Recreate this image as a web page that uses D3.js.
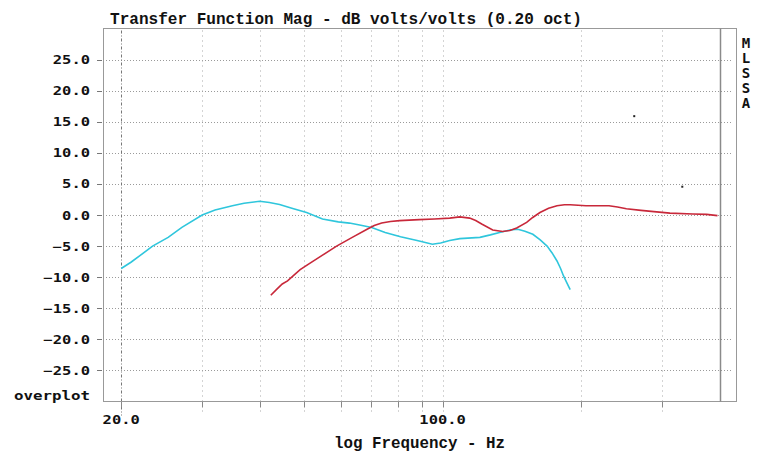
<!DOCTYPE html>
<html>
<head>
<meta charset="utf-8">
<script src="https://cdn.jsdelivr.net/npm/d3@7"></script>
<style>
    html, body { margin: 0; padding: 0; background: #fff; }
    svg { display: block; }
</style>
</head>
<body>
<svg id="chart" width="762" height="455"></svg>
<script>
// data
var xTickValues = [20, 30, 40, 50, 60, 70, 80, 90, 100, 200, 300];
var xTickLabels = [{ f: 20, label: '20.0' }, { f: 100, label: '100.0' }];
var yTickValues = [25, 20, 15, 10, 5, 0, -5, -10, -15, -20, -25];

var cyanFreq = [20.0, 21.0, 22.0, 23.4, 25.3, 27.1, 30.0, 32.0, 34.9, 37.0, 40.0, 42.0, 44.2,
    47.0, 50.6, 54.8, 59.3, 62.7, 66.0, 70.1, 75.0, 81.0, 88.0, 95.0, 99.0, 103.6, 109.0,
    120.5, 127.0, 133.0, 140.0, 145.7, 151.0, 157.1, 163.0, 168.7, 173.0, 177.3, 180.5,
    183.2, 186.5, 189.4];
var cyanDb = [-8.6, -7.6, -6.5, -5.0, -3.6, -2.0, 0.0, 0.8, 1.5, 1.9, 2.2, 2.0, 1.7,
    1.1, 0.4, -0.65, -1.1, -1.3, -1.6, -2.0, -2.8, -3.5, -4.1, -4.7, -4.5, -4.1, -3.8,
    -3.6, -3.2, -2.8, -2.4, -2.3, -2.6, -3.1, -4.0, -5.0, -6.1, -7.4, -8.6,
    -9.8, -11.0, -12.0];

var redFreq = [42.3, 43.5, 44.8, 46.0, 47.3, 49.0, 51.1, 54.7, 58.8, 63.6, 68.5, 71.0, 73.7,
    77.0, 80.6, 88.9, 96.0, 103.6, 109.0, 114.5, 118.0, 121.6, 128.5, 135.0, 140.0, 144.9,
    152.3, 157.0, 162.8, 170.0, 177.3, 184.0, 189.4, 205.0, 230.0, 240.0, 251.0, 270.0,
    288.0, 312.0, 350.0, 375.0, 396.0];
var redDb = [-12.9, -12.0, -11.1, -10.6, -9.8, -8.8, -7.9, -6.5, -5.0, -3.6, -2.3, -1.7, -1.3,
    -1.05, -0.9, -0.75, -0.65, -0.5, -0.3, -0.5, -0.9, -1.45, -2.4, -2.65, -2.5, -2.1,
    -1.2, -0.4, 0.4, 1.1, 1.5, 1.65, 1.65, 1.5, 1.5, 1.3, 1.0, 0.75,
    0.55, 0.3, 0.15, 0.1, -0.1];

var strayFreq = [261, 332];
var strayDb = [15.9, 4.55];

var sideLetters = ['M', 'L', 'S', 'S', 'A'];

var svg = d3.select('#chart'),
    frame = { left: 104, right: 720, outer: 737, top: 28.5, bottom: 401.5 },
    monoFont = '"DejaVu Sans Mono", monospace',
    serifMono = '"Liberation Mono", monospace';

var x = d3.scaleLog().domain([18.35, 401]).range([frame.left, frame.right]),
    y = d3.scaleLinear().domain([-30, 30]).range([frame.bottom, frame.top]);

// GRID
//
var grid = svg.append('g').attr('class', 'grid');

grid.selectAll('.hgrid').data(yTickValues).enter().append('line')
    .attr('class', 'hgrid')
    .attr('x1', frame.left + 2).attr('x2', frame.outer - 4)
    .attr('y1', function(d) { return Math.round(y(d)) + 0.5; })
    .attr('y2', function(d) { return Math.round(y(d)) + 0.5; })
    .attr('stroke', '#9a9a9a').attr('stroke-width', 1)
    .attr('stroke-dasharray', '1,2');

grid.selectAll('.vgrid').data(xTickValues).enter().append('line')
    .attr('class', 'vgrid')
    .attr('x1', function(d) { return Math.round(x(d)) + 0.5; })
    .attr('x2', function(d) { return Math.round(x(d)) + 0.5; })
    .attr('y1', frame.top + 2).attr('y2', frame.bottom + 14)
    .attr('stroke', function(d) { return d === 20 ? '#777' : '#a8a8a8'; })
    .attr('stroke-width', 1)
    .attr('stroke-dasharray', function(d) { return d === 20 ? '3,2,1,2' : '1,4'; });

// x ticks below the frame
grid.selectAll('.xtick').data(xTickValues).enter().append('line')
    .attr('class', 'xtick')
    .attr('x1', function(d) { return Math.round(x(d)) + 0.5; })
    .attr('x2', function(d) { return Math.round(x(d)) + 0.5; })
    .attr('y1', frame.bottom).attr('y2', frame.bottom + 6)
    .attr('stroke', '#888');

// y ticks left of the frame
grid.selectAll('.ytick').data(yTickValues).enter().append('line')
    .attr('class', 'ytick')
    .attr('x1', 97).attr('x2', 102)
    .attr('y1', function(d) { return Math.round(y(d)) + 0.5; })
    .attr('y2', function(d) { return Math.round(y(d)) + 0.5; })
    .attr('stroke', '#777');

// FRAME
//
var box = svg.append('g').attr('class', 'frame')
    .attr('stroke', '#999').attr('fill', 'none').attr('stroke-width', 1);
box.append('rect')
    .attr('x', frame.left - 0.5).attr('y', frame.top)
    .attr('width', frame.outer - frame.left).attr('height', frame.bottom - frame.top);
box.append('line')
    .attr('x1', frame.right + 0.5).attr('x2', frame.right + 0.5)
    .attr('y1', frame.top).attr('y2', frame.bottom)
    .attr('stroke', '#8a8a8a').attr('stroke-width', 1.5);

// CURVES
//
var line = d3.line()
    .x(function(d) { return x(d[0]); })
    .y(function(d) { return y(d[1]); });

svg.append('path')
    .datum(d3.zip(cyanFreq, cyanDb))
    .attr('fill', 'none').attr('stroke', '#2fc6dc').attr('stroke-width', 1.6)
    .attr('d', line);

svg.append('path')
    .datum(d3.zip(redFreq, redDb))
    .attr('fill', 'none').attr('stroke', '#c8283a').attr('stroke-width', 1.6)
    .attr('d', line);

svg.selectAll('.stray').data(d3.zip(strayFreq, strayDb)).enter().append('rect')
    .attr('class', 'stray')
    .attr('x', function(d) { return x(d[0]) - 1; })
    .attr('y', function(d) { return y(d[1]) - 1; })
    .attr('width', 2).attr('height', 2)
    .attr('fill', '#222');

// TEXT
//
svg.selectAll('.ylabel').data(yTickValues).enter().append('text')
    .attr('class', 'ylabel')
    .attr('x', 90).attr('y', function(d) { return y(d) + 4.5; })
    .attr('text-anchor', 'end')
    .attr('font-family', monoFont).attr('font-weight', 'bold').attr('font-size', 11.5)
    .attr('textLength', function(d) { return d3.format('.1f')(d).length * 9.3; })
    .attr('lengthAdjust', 'spacingAndGlyphs')
    .attr('fill', '#111')
    .text(function(d) { return d3.format('.1f')(d); });

svg.append('text')
    .attr('x', 14).attr('y', 400)
    .attr('font-family', monoFont).attr('font-weight', 'bold').attr('font-size', 12)
    .attr('textLength', 76).attr('lengthAdjust', 'spacingAndGlyphs')
    .attr('fill', '#111')
    .text('overplot');

svg.selectAll('.xlabel').data(xTickLabels).enter().append('text')
    .attr('class', 'xlabel')
    .attr('x', function(d) { return x(d.f); }).attr('y', 424)
    .attr('text-anchor', 'middle')
    .attr('font-family', monoFont).attr('font-weight', 'bold').attr('font-size', 11.5)
    .attr('textLength', function(d) { return d.label.length * 9.3; })
    .attr('lengthAdjust', 'spacingAndGlyphs')
    .attr('fill', '#111')
    .text(function(d) { return d.label; });

svg.append('text')
    .attr('x', 110).attr('y', 24)
    .attr('font-family', serifMono).attr('font-weight', 'bold').attr('font-size', 17)
    .attr('textLength', 472).attr('lengthAdjust', 'spacingAndGlyphs')
    .attr('fill', '#111')
    .text('Transfer Function Mag - dB volts/volts (0.20 oct)');

svg.append('text')
    .attr('x', 334).attr('y', 448)
    .attr('font-family', serifMono).attr('font-weight', 'bold').attr('font-size', 17)
    .attr('textLength', 171).attr('lengthAdjust', 'spacingAndGlyphs')
    .attr('fill', '#111')
    .text('log Frequency - Hz');

svg.selectAll('.side').data(sideLetters).enter().append('text')
    .attr('class', 'side')
    .attr('x', 746).attr('y', function(d, i) { return 47.5 + i * 15.2; })
    .attr('text-anchor', 'middle')
    .attr('font-family', monoFont).attr('font-weight', 'bold').attr('font-size', 14)
    .attr('fill', '#111')
    .text(function(d) { return d; });
</script>
</body>
</html>
